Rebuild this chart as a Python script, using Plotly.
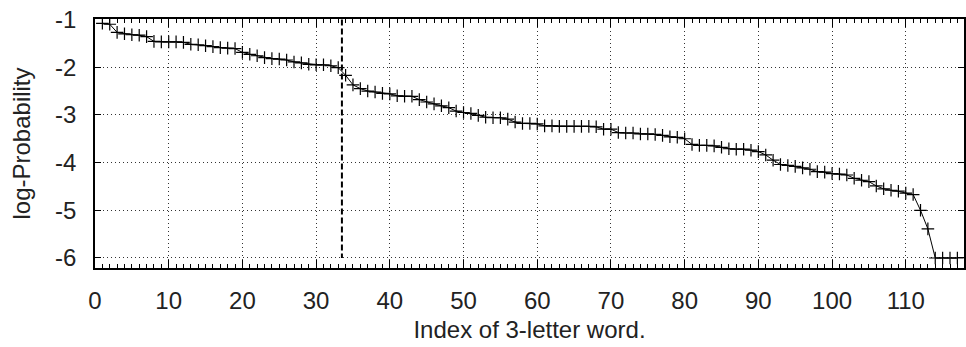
import plotly.graph_objects as go

# ---- data ----
word_index = list(range(1, 118))
log_prob = [
    -1.08, -1.10, -1.27, -1.30, -1.32, -1.33, -1.36, -1.46, -1.47, -1.47,
    -1.47, -1.48, -1.52, -1.53, -1.55, -1.57, -1.59, -1.60, -1.61, -1.69,
    -1.73, -1.76, -1.80, -1.82, -1.83, -1.85, -1.89, -1.91, -1.94, -1.95,
    -1.95, -1.97, -2.01, -2.17, -2.37, -2.45, -2.50, -2.52, -2.55, -2.56,
    -2.60, -2.61, -2.61, -2.68, -2.73, -2.77, -2.81, -2.85, -2.92, -2.95,
    -2.97, -3.01, -3.05, -3.06, -3.06, -3.09, -3.15, -3.18, -3.18, -3.19,
    -3.23, -3.23, -3.24, -3.24, -3.24, -3.24, -3.24, -3.25, -3.30, -3.30,
    -3.37, -3.38, -3.38, -3.40, -3.40, -3.41, -3.43, -3.46, -3.47, -3.50,
    -3.62, -3.64, -3.64, -3.65, -3.68, -3.71, -3.72, -3.72, -3.74, -3.77,
    -3.84, -3.95, -4.04, -4.06, -4.08, -4.11, -4.14, -4.19, -4.20, -4.23,
    -4.24, -4.26, -4.33, -4.37, -4.40, -4.49, -4.55, -4.58, -4.60, -4.64,
    -4.67, -5.00, -5.39, -6.00, -6.00, -6.00, -6.00,
]
cutoff_x = [33.5, 33.5]
cutoff_y = [-1.0, -6.0]

x_tickvals = [0, 10, 20, 30, 40, 50, 60, 70, 80, 90, 100, 110]
x_ticktext = [str(v) for v in x_tickvals]
y_tickvals = [-1, -2, -3, -4, -5, -6]
y_ticktext = ["-1", "-2", "-3", "-4", "-5", "-6"]

FONT = "Liberation Sans, Arial, sans-serif"

fig = go.Figure()
fig.add_trace(go.Scatter(
    x=word_index, y=log_prob, mode="lines+markers",
    line=dict(color="black", width=1),
    marker=dict(symbol="cross-thin-open", size=9,
                line=dict(color="black", width=1.2)),
    showlegend=False, hoverinfo="x+y",
))
fig.add_trace(go.Scatter(
    x=cutoff_x, y=cutoff_y, mode="lines",
    line=dict(color="black", width=2, dash="6px,3px"),
    showlegend=False, hoverinfo="skip",
))

fig.update_layout(
    width=966, height=347,
    margin=dict(l=95, r=0, t=19, b=79),
    paper_bgcolor="white", plot_bgcolor="white",
    font=dict(family=FONT, size=24, color="#222"),
)
fig.update_xaxes(
    range=[0, 117.9],
    tickvals=x_tickvals, ticktext=x_ticktext,
    ticks="inside", ticklen=8, tickwidth=1, tickcolor="black",
    minor=dict(dtick=1, tick0=0, ticks="inside", ticklen=4, tickwidth=1,
               tickcolor="black", showgrid=False),
    showline=True, linecolor="black", linewidth=1.5, mirror="ticks",
    showgrid=True, gridcolor="#333", griddash="1px,3px", gridwidth=1,
    zeroline=False,
    ticklabelstandoff=10,
    tickfont=dict(size=24),
    title=dict(text="Index of 3-letter word.", font=dict(size=24), standoff=9),
)
fig.update_yaxes(
    range=[-6.21, -0.99],
    tickvals=y_tickvals, ticktext=y_ticktext,
    ticks="inside", ticklen=6, tickwidth=1, tickcolor="black",
    showline=True, linecolor="black", linewidth=1.5, mirror="ticks",
    showgrid=True, gridcolor="#333", griddash="1px,3px", gridwidth=1,
    zeroline=False,
    ticklabelstandoff=12,
    tickfont=dict(size=24),
    title=dict(text="log-Probability", font=dict(size=24), standoff=18),
)

fig.write_html("out.html")
